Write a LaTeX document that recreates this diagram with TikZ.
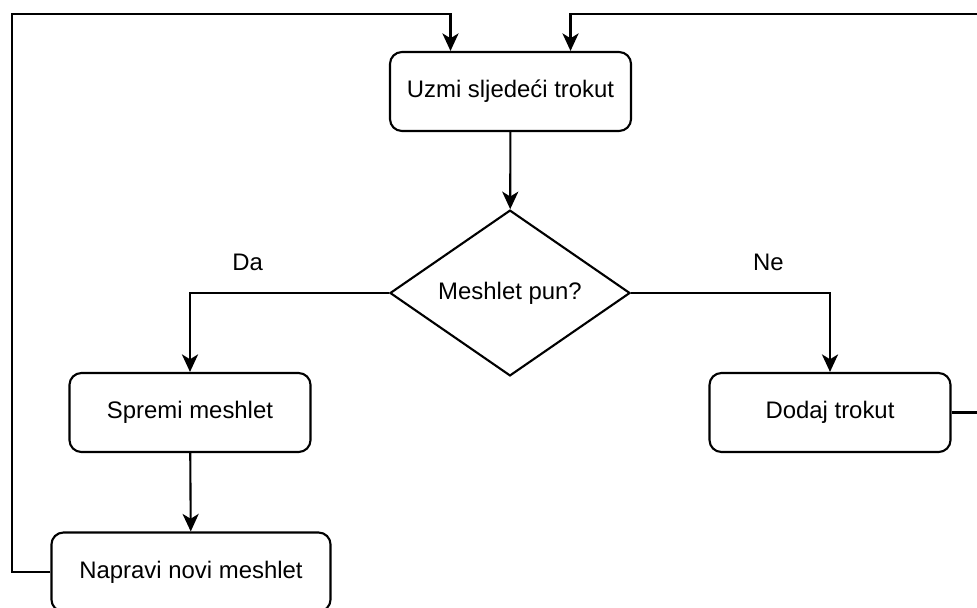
\documentclass[tikz,border=0pt]{standalone}
\usepackage{fontspec}
\setmainfont{Liberation Sans}
\usetikzlibrary{
	arrows.meta,
	shapes.geometric
}
\newcommand{\flowfont}{\fontsize{17}{20}\selectfont}
\tikzset{
	>={Stealth[length=12.5pt, width=11.5pt, inset=3.5pt]},
	flow/.style={->, line width=1.5pt},
	stepbox/.style={draw, line width=1.5pt, rounded corners=0.3cm, minimum width=6.025cm, minimum height=1.975cm, font=\flowfont},
	decision/.style={diamond, draw, line width=1.5pt, minimum width=6cm, minimum height=4cm, inner sep=0pt, font=\flowfont},
	branchlabel/.style={font=\flowfont, yshift=0.775cm}
}

\begin{document}
\begin{tikzpicture}[x=0.025cm, y=-0.025cm]
	\useasboundingbox (0,0) rectangle (977,607);
	\node[stepbox] (take) at (510.5,91.5) {Uzmi sljedeći trokut};
	\node[decision] (full) at (510,293) {Meshlet pun?};
	\node[stepbox] (store) at (190,412.5) {Spremi meshlet};
	\node[stepbox] (add) at (830,412.5) {Dodaj trokut};
	\node[stepbox, minimum width=6.975cm] (new) at (191,572) {Napravi novi meshlet};

	\draw[flow] (take) -- (full);
	\draw[flow] (full.west) -| (store.north) node[branchlabel, pos=0.355] {Da};
	\draw[flow] (full.east) -| (add.north) node[branchlabel, pos=0.345] {Ne};
	\draw[flow] (store) -- (new);
	\draw[flow] (new.west) -| (12,14) -| ([xshift=-1.5cm]take.north);
	\draw[flow] (add.east) -| (995,14) -| ([xshift=1.5cm]take.north);
\end{tikzpicture}
\end{document}
